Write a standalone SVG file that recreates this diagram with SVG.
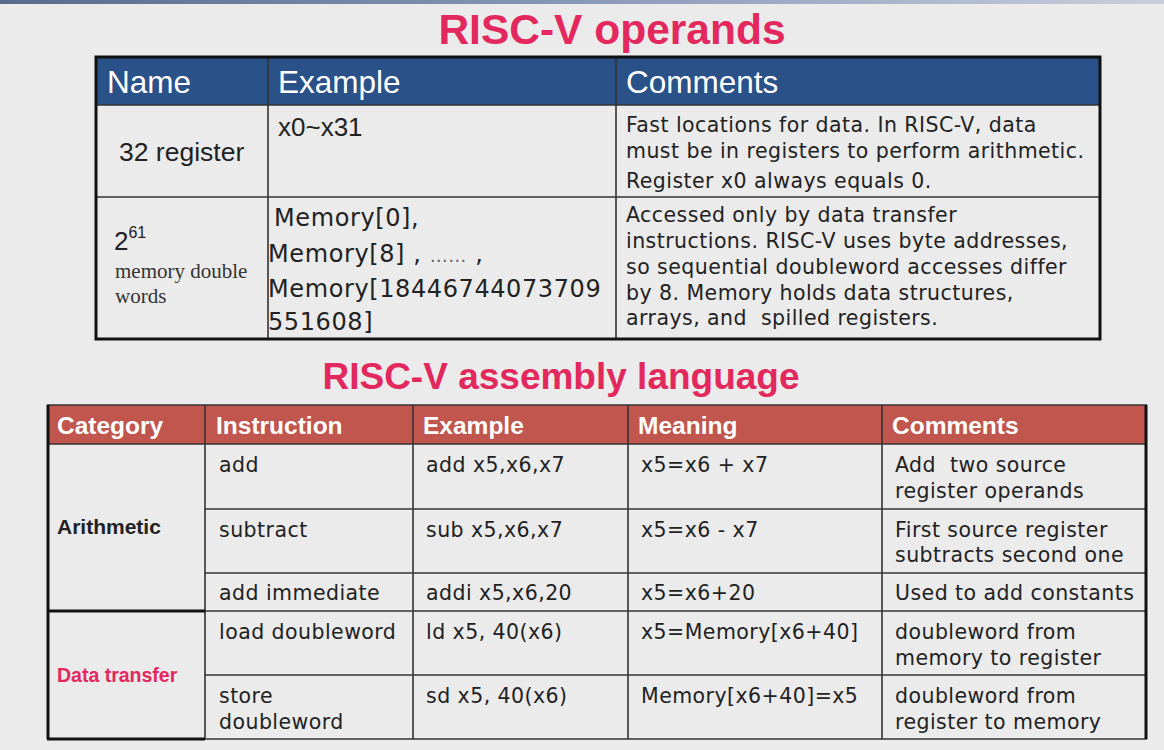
<svg xmlns="http://www.w3.org/2000/svg" width="1164" height="750" viewBox="0 0 1164 750">
<defs>
<linearGradient id="topbar" x1="0" x2="1" y1="0" y2="0">
<stop offset="0" stop-color="#5a6a8a"/>
<stop offset="0.5" stop-color="#8a98b8"/>
<stop offset="1" stop-color="#c8cfdc"/>
</linearGradient>
<style>
.title{font-family:"Liberation Sans",Arial,sans-serif;font-weight:bold;fill:#E3285E;text-anchor:middle}
.h1{font-family:"Liberation Sans",Arial,sans-serif;font-size:31.5px;fill:#ffffff}
.h2{font-family:"Liberation Sans",Arial,sans-serif;font-size:24.5px;font-weight:bold;fill:#ffffff}
.cell{font-family:"DejaVu Sans",Verdana,sans-serif;font-size:20.5px;letter-spacing:0.45px;fill:#222}
.mem{font-family:"DejaVu Sans",Verdana,sans-serif;font-size:24px;letter-spacing:0.6px;fill:#222}
.arial{font-family:"Liberation Sans",Arial,sans-serif;fill:#222}
.serif{font-family:"Liberation Serif","Times New Roman",serif;font-size:21px;fill:#333}
.thin{stroke:#333;stroke-width:1.6;fill:none}
.thick{stroke:#111;stroke-width:3;fill:none}
</style>
</defs>
<rect width="1164" height="750" fill="#EBEBEB"/>
<rect x="0" y="0" width="1164" height="4" fill="url(#topbar)"/>

<text class="title" x="612" y="44" font-size="42.5">RISC-V operands</text>

<g id="table-operands">
<rect x="96" y="57" width="1004" height="48" fill="#2A5188"/>
<text class="h1" x="107" y="93">Name</text>
<text class="h1" x="278" y="93">Example</text>
<text class="h1" x="626" y="93">Comments</text>
<line class="thin" x1="268" y1="57" x2="268" y2="339"/>
<line class="thin" x1="616" y1="57" x2="616" y2="339"/>
<line class="thin" x1="96" y1="105" x2="1100" y2="105"/>
<line class="thin" x1="96" y1="197" x2="1100" y2="197"/>
<rect class="thick" x="96" y="57" width="1004" height="282"/>
</g>

<g id="row-registers">
<text class="arial" x="119" y="161" font-size="26.5">32 register</text>
<text class="arial" x="278" y="136" font-size="26">x0~x31</text>
<text class="cell" x="626" y="132">Fast locations for data. In RISC-V, data</text>
<text class="cell" x="626" y="158">must be in registers to perform arithmetic.</text>
<text class="cell" x="626" y="188">Register x0 always equals 0.</text>
</g>

<g id="row-memory">
<text class="arial" x="114" y="250" font-size="26">2<tspan font-size="16" dy="-12">61</tspan></text>
<text class="serif" x="115" y="278">memory double</text>
<text class="serif" x="115" y="303">words</text>
<text class="mem" x="274" y="226">Memory[0],</text>
<text class="mem" x="268" y="262">Memory[8] ,  <tspan fill="#666" font-size="18">……</tspan> ,</text>
<text class="mem" x="268" y="297">Memory[18446744073709</text>
<text class="mem" x="268" y="330">551608]</text>
<text class="cell" x="626" y="222">Accessed only by data transfer</text>
<text class="cell" x="626" y="248">instructions. RISC-V uses byte addresses,</text>
<text class="cell" x="626" y="274">so sequential doubleword accesses differ</text>
<text class="cell" x="626" y="300">by 8. Memory holds data structures,</text>
<text class="cell" x="626" y="325">arrays, and&#160; spilled registers.</text>
</g>

<text class="title" x="561" y="389" font-size="37">RISC-V assembly language</text>

<g id="table-assembly">
<rect x="47" y="405" width="1100" height="39" fill="#C0564E"/>
<text class="h2" x="57" y="434">Category</text>
<text class="h2" x="216" y="434">Instruction</text>
<text class="h2" x="423" y="434">Example</text>
<text class="h2" x="638" y="434">Meaning</text>
<text class="h2" x="892" y="434">Comments</text>
<line class="thin" x1="205" y1="405" x2="205" y2="739"/>
<line class="thin" x1="413" y1="405" x2="413" y2="739"/>
<line class="thin" x1="628" y1="405" x2="628" y2="739"/>
<line class="thin" x1="882" y1="405" x2="882" y2="739"/>
<line class="thin" x1="47" y1="444" x2="1147" y2="444"/>
<line class="thin" x1="205" y1="509" x2="1147" y2="509"/>
<line class="thin" x1="205" y1="573" x2="1147" y2="573"/>
<line class="thin" x1="205" y1="611" x2="1147" y2="611"/>
<line class="thin" x1="205" y1="675" x2="1147" y2="675"/>
<line class="thin" x1="205" y1="739" x2="1147" y2="739"/>
<line class="thin" x1="47" y1="405" x2="1147" y2="405"/>
<line class="thick" x1="48" y1="405" x2="48" y2="739"/>
<line class="thick" x1="1146" y1="405" x2="1146" y2="739"/>
<line class="thick" x1="47" y1="611" x2="205" y2="611"/>
<line class="thick" x1="47" y1="739" x2="205" y2="739"/>
</g>

<g id="cat-arithmetic">
<text class="arial" x="57" y="534" font-size="21" font-weight="bold" fill="#111">Arithmetic</text>
</g>
<g id="cat-data-transfer">
<text class="arial" x="57" y="682" font-size="19.5" font-weight="bold" style="fill:#E3285E">Data transfer</text>
</g>

<g id="row-add">
<text class="cell" x="219" y="472">add</text>
<text class="cell" x="426" y="472">add x5,x6,x7</text>
<text class="cell" x="641" y="472">x5=x6 + x7</text>
<text class="cell" x="895" y="472">Add&#160; two source</text>
<text class="cell" x="895" y="498">register operands</text>
</g>
<g id="row-sub">
<text class="cell" x="219" y="537">subtract</text>
<text class="cell" x="426" y="537">sub x5,x6,x7</text>
<text class="cell" x="641" y="537">x5=x6 - x7</text>
<text class="cell" x="895" y="537">First source register</text>
<text class="cell" x="895" y="562">subtracts second one</text>
</g>
<g id="row-addi">
<text class="cell" x="219" y="600">add immediate</text>
<text class="cell" x="426" y="600">addi x5,x6,20</text>
<text class="cell" x="641" y="600">x5=x6+20</text>
<text class="cell" x="895" y="600">Used to add constants</text>
</g>
<g id="row-ld">
<text class="cell" x="219" y="639">load doubleword</text>
<text class="cell" x="426" y="639">ld x5, 40(x6)</text>
<text class="cell" x="641" y="639">x5=Memory[x6+40]</text>
<text class="cell" x="895" y="639">doubleword from</text>
<text class="cell" x="895" y="665">memory to register</text>
</g>
<g id="row-sd">
<text class="cell" x="219" y="703">store</text>
<text class="cell" x="219" y="729">doubleword</text>
<text class="cell" x="426" y="703">sd x5, 40(x6)</text>
<text class="cell" x="641" y="703">Memory[x6+40]=x5</text>
<text class="cell" x="895" y="703">doubleword from</text>
<text class="cell" x="895" y="729">register to memory</text>
</g>
</svg>
